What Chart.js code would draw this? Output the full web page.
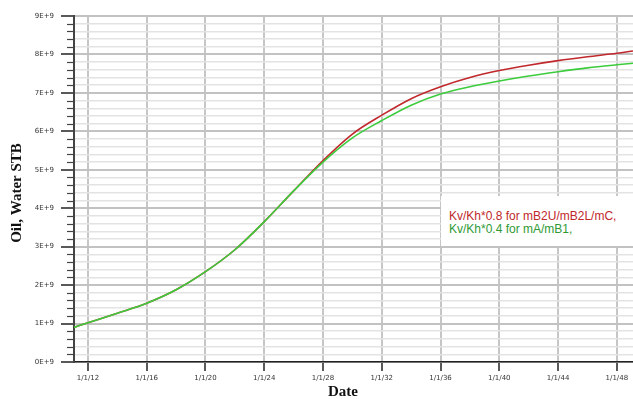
<!DOCTYPE html>
<html>
<head>
<meta charset="utf-8">
<script src="https://cdn.jsdelivr.net/npm/chart.js@4.4.0/dist/chart.umd.min.js"></script>
<style>
  body { margin: 0; background: #fff; }
  #wrap { position: relative; width: 633px; height: 399px; }
  #legend {
    position: absolute; left: 441px; top: 196px; width: 192px; height: 50px;
    background: #fff; font: 12px "Liberation Sans", Arial, sans-serif; line-height: 13px;
    padding: 14px 0 0 8px; box-sizing: border-box;
  }
</style>
</head>
<body>
<div id="wrap">
  <canvas id="myChart" width="633" height="399"></canvas>
  <div id="legend"></div>
</div>
<script>
// data, values in units of 1E+9 STB
let years = [2011.05, 2012, 2014, 2016, 2018, 2020, 2022, 2024, 2026, 2028, 2030, 2032, 2034, 2036, 2038, 2040, 2042, 2044, 2046, 2048, 2049.1]
let kv08 = [0.90, 1.02, 1.27, 1.53, 1.88, 2.35, 2.92, 3.65, 4.45, 5.24, 5.93, 6.42, 6.85, 7.16, 7.40, 7.58, 7.72, 7.84, 7.94, 8.03, 8.09]
let kv04 = [0.90, 1.02, 1.27, 1.53, 1.88, 2.35, 2.92, 3.65, 4.45, 5.20, 5.83, 6.28, 6.68, 6.97, 7.16, 7.31, 7.44, 7.55, 7.65, 7.73, 7.77]
let tickYears = [2012, 2016, 2020, 2024, 2028, 2032, 2036, 2040, 2044, 2048]
let labels = ['Kv/Kh*0.8 for mB2U/mB2L/mC,', 'Kv/Kh*0.4 for mA/mB1,']
let lineColors = ['#c0282c', '#3ccc3c']
let textColors = ['#c0282c', '#2f9a35']

function toPoints(vals) {
  return years.map((y, i) => ({x: y, y: vals[i] * 1e9}))
}

function isMajor(v) {
  return Math.round(v / 1e8) % 10 == 0
}

// legend
let legendHTML = ''
for(let i in labels) legendHTML += `<div style="color:${textColors[i]}">${labels[i]}</div>`
document.getElementById('legend').innerHTML = legendHTML

// axis titles + minor ticks
let extras = {
  id: 'extras',
  afterDraw(chart) {
    let ctx = chart.ctx
    let ys = chart.scales.y
    ctx.save()
    ctx.strokeStyle = '#444'
    ctx.lineWidth = 1.2
    ys.ticks.forEach(t => {
      if(isMajor(t.value)) return
      let py = Math.round(ys.getPixelForValue(t.value)) + 0.5
      ctx.beginPath()
      ctx.moveTo(67, py)
      ctx.lineTo(ys.right, py)
      ctx.stroke()
    })
    ctx.fillStyle = '#111'
    ctx.font = 'bold 15px "Liberation Serif", "Times New Roman", serif'
    ctx.textAlign = 'center'
    ctx.textBaseline = 'middle'
    ctx.fillText('Date', 343, 392)
    ctx.translate(17, 193)
    ctx.rotate(-Math.PI / 2)
    ctx.fillText('Oil, Water STB', 0, 0)
    ctx.restore()
  }
}

let ctx = document.getElementById('myChart').getContext('2d')
let graph = new Chart(ctx, {
  type: 'line',
  data: {
    datasets: [{
      label: labels[0],
      data: toPoints(kv08),
      borderColor: lineColors[0],
      backgroundColor: lineColors[0],
      borderWidth: 1.6,
      pointRadius: 0,
      fill: false,
      cubicInterpolationMode: 'monotone',
      order: 1
    }, {
      label: labels[1],
      data: toPoints(kv04),
      borderColor: lineColors[1],
      backgroundColor: lineColors[1],
      borderWidth: 1.6,
      pointRadius: 0,
      fill: false,
      cubicInterpolationMode: 'monotone',
      order: 0
    }]
  },
  options: {
    responsive: false,
    animation: false,
    layout: {padding: {top: 16, left: 0, right: 0, bottom: 0}},
    plugins: {legend: {display: false}, tooltip: {enabled: false}},
    scales: {
      x: {
        type: 'linear',
        min: years[0],
        max: years[years.length - 1],
        afterBuildTicks: s => { s.ticks = tickYears.map(v => ({value: v})) },
        afterFit: s => { s.height = 37 },
        grid: {color: '#c6c6c6', lineWidth: 2, tickLength: 9, tickColor: '#222', tickWidth: 1.5},
        border: {color: '#222', width: 1.5},
        ticks: {
          autoSkip: false,
          maxRotation: 0,
          padding: 3,
          color: '#333',
          font: {size: 7, family: '"DejaVu Sans", sans-serif'},
          callback: v => '1/1/' + String(v % 100).padStart(2, '0')
        }
      },
      y: {
        min: 0,
        max: 9e9,
        afterFit: s => { s.width = 74 },
        grid: {
          color: c => isMajor(c.tick.value) ? '#c2c2c2' : '#e3e3e3',
          lineWidth: c => isMajor(c.tick.value) ? 2 : 1.5,
          tickLength: 13,
          tickColor: c => isMajor(c.tick.value) ? '#222' : 'rgba(0,0,0,0)',
          tickWidth: 1.5
        },
        border: {color: '#444', width: 2},
        ticks: {
          stepSize: 2e8,
          autoSkip: false,
          padding: 7,
          color: '#333',
          font: {size: 7, family: '"DejaVu Sans", sans-serif'},
          callback: v => isMajor(v) ? Math.round(v / 1e9) + 'E+9' : ''
        }
      }
    }
  },
  plugins: [extras]
})
</script>
</body>
</html>
